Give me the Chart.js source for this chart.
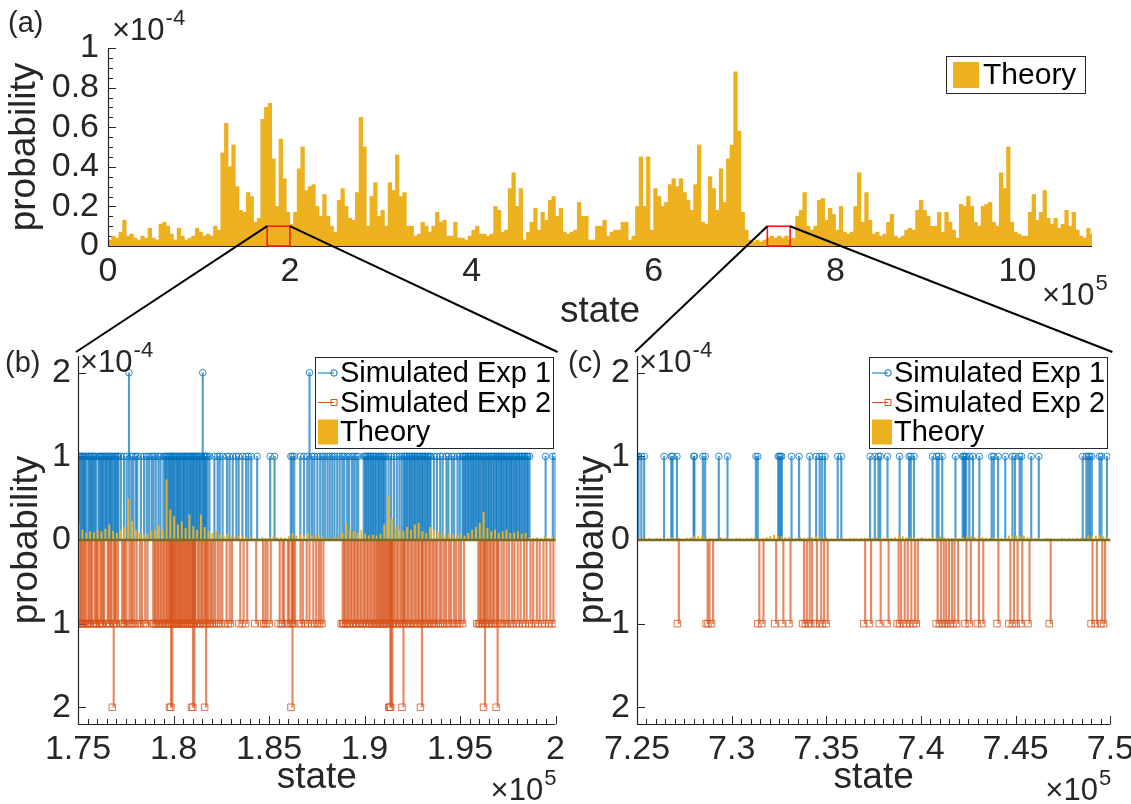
<!DOCTYPE html>
<html><head><meta charset="utf-8">
<script src="https://cdn.jsdelivr.net/npm/chart.js@4.4.1/dist/chart.umd.min.js"></script>
<style>
html,body{margin:0;padding:0;background:#fff;}
#wrap{position:relative;width:1131px;height:804px;overflow:hidden;background:#fff;}
canvas{position:absolute;}
</style></head><body>
<div id="wrap">
<canvas id="ca" width="1131" height="340" style="left:0;top:0"></canvas>
<canvas id="cb" width="570" height="478" style="left:0;top:326px"></canvas>
<canvas id="cc" width="580" height="478" style="left:559px;top:326px"></canvas>
<canvas id="ov" width="1131" height="804" style="left:0;top:0;pointer-events:none"></canvas>
</div>
<script>
// ================= DATA =================
const seriesNames = ['Simulated Exp 1', 'Simulated Exp 2', 'Theory'];
// x ranges (state)
const rangeA = [0, 1082000];
const rangeB = [175000, 200000];
const rangeC = [725000, 750000];
const zoomBoxTop = 0.1; // ×10^-4
// tick values and labels
const xTicksA = [0, 2, 4, 6, 8, 10];            // ×10^5
const xTickLabelsA = ['0', '2', '4', '6', '8', '10'];
const yTicksA = [0, 0.2, 0.4, 0.6, 0.8, 1];      // ×10^-4
const yTickLabelsA = ['0', '0.2', '0.4', '0.6', '0.8', '1'];
const xTicksB = [1.75, 1.8, 1.85, 1.9, 1.95, 2];
const xTickLabelsB = ['1.75', '1.8', '1.85', '1.9', '1.95', '2'];
const xTicksC = [7.25, 7.3, 7.35, 7.4, 7.45, 7.5];
const xTickLabelsC = ['7.25', '7.3', '7.35', '7.4', '7.45', '7.5'];
const yTicksBC = [-2, -1, 0, 1, 2];
const yTickLabelsBC = ['2', '1', '0', '1', '2'];

// Theory probability (×10^-4), full state space, bins of 4000 states
const theoryBinA = 4000;
const theoryFull = [
0.03,0.05,0.04,0.07,0.13,0.05,0.06,0.04,0.03,0.05,
0.04,0.09,0.04,0.03,0.11,0.12,0.10,0.06,0.03,0.09,
0.05,0.03,0.04,0.05,0.09,0.07,0.05,0.06,0.05,0.10,
0.08,0.47,0.62,0.40,0.51,0.30,0.18,0.17,0.27,0.25,
0.12,0.14,0.64,0.70,0.72,0.44,0.20,0.54,0.34,0.17,
0.11,0.17,0.39,0.50,0.28,0.30,0.31,0.20,0.15,0.26,
0.15,0.10,0.07,0.23,0.29,0.20,0.14,0.13,0.27,0.65,
0.50,0.10,0.25,0.32,0.15,0.18,0.10,0.32,0.28,0.46,
0.25,0.27,0.10,0.10,0.05,0.06,0.12,0.10,0.07,0.10,
0.17,0.12,0.13,0.05,0.05,0.12,0.04,0.04,0.03,0.05,
0.08,0.10,0.06,0.06,0.05,0.06,0.20,0.18,0.07,0.08,
0.29,0.37,0.20,0.29,0.03,0.07,0.12,0.19,0.08,0.17,
0.13,0.23,0.25,0.15,0.19,0.07,0.06,0.07,0.08,0.22,
0.15,0.15,0.03,0.03,0.10,0.10,0.13,0.05,0.07,0.08,
0.08,0.12,0.12,0.03,0.05,0.20,0.45,0.20,0.45,0.08,
0.29,0.25,0.20,0.22,0.31,0.34,0.30,0.34,0.27,0.23,
0.18,0.31,0.51,0.12,0.11,0.35,0.29,0.18,0.39,0.22,
0.44,0.51,0.88,0.58,0.17,0.08,0.03,0.02,0.03,0.02,
0.03,0.04,0.05,0.04,0.05,0.04,0.05,0.03,0.04,0.15,
0.18,0.27,0.10,0.08,0.10,0.23,0.24,0.13,0.19,0.16,
0.08,0.20,0.07,0.06,0.07,0.20,0.37,0.12,0.27,0.13,
0.06,0.07,0.05,0.06,0.12,0.16,0.05,0.04,0.05,0.08,
0.09,0.08,0.18,0.23,0.18,0.15,0.10,0.10,0.17,0.07,
0.17,0.12,0.08,0.04,0.21,0.20,0.25,0.20,0.12,0.10,
0.20,0.21,0.22,0.12,0.10,0.37,0.29,0.50,0.12,0.07,
0.06,0.05,0.05,0.17,0.26,0.13,0.17,0.28,0.14,0.11,
0.14,0.09,0.11,0.18,0.10,0.17,0.08,0.05,0.04,0.09,
0.06];

// Theory in zoom windows, bins of 200 states
const theoryBinZoom = 200;
const theoryB = [
0.20,0.12,0.08,0.10,0.09,0.12,0.10,0.13,0.18,0.10,
0.08,0.12,0.15,0.49,0.22,0.12,0.08,0.06,0.07,0.10,
0.12,0.17,0.12,0.72,0.36,0.28,0.18,0.22,0.14,0.30,
0.16,0.12,0.30,0.15,0.10,0.08,0.10,0.06,0.05,0.07,
0.04,0.03,0.05,0.04,0.03,0.03,0.02,0.02,0.03,0.02,
0.03,0.04,0.03,0.03,0.02,0.04,0.08,0.05,0.06,0.04,
0.08,0.05,0.06,0.05,0.03,0.02,0.02,0.03,0.04,0.08,
0.20,0.12,0.10,0.08,0.12,0.07,0.05,0.06,0.05,0.07,
0.18,0.52,0.25,0.16,0.12,0.10,0.15,0.12,0.18,0.20,
0.10,0.08,0.15,0.12,0.10,0.07,0.06,0.08,0.06,0.05,
0.07,0.05,0.08,0.12,0.15,0.20,0.33,0.14,0.10,0.12,
0.08,0.10,0.12,0.08,0.09,0.10,0.07,0.08,0.03,0.02,
0.03,0.02,0.04,0.02,0.03];
const theoryC = [
0.02,0.01,0.02,0.02,0.01,0.02,0.02,0.01,0.02,0.03,
0.02,0.02,0.01,0.02,0.03,0.05,0.04,0.05,0.02,0.02,
0.01,0.02,0.03,0.02,0.01,0.01,0.02,0.02,0.01,0.02,
0.02,0.03,0.02,0.02,0.03,0.04,0.06,0.05,0.04,0.03,
0.03,0.02,0.02,0.03,0.02,0.03,0.03,0.04,0.03,0.02,
0.02,0.01,0.01,0.02,0.02,0.01,0.02,0.02,0.01,0.02,
0.02,0.02,0.02,0.03,0.02,0.02,0.03,0.02,0.03,0.06,
0.04,0.03,0.03,0.02,0.02,0.03,0.02,0.02,0.03,0.02,
0.04,0.03,0.02,0.02,0.03,0.02,0.03,0.05,0.04,0.03,
0.04,0.03,0.02,0.02,0.03,0.02,0.02,0.02,0.05,0.04,
0.05,0.04,0.05,0.03,0.02,0.02,0.02,0.01,0.02,0.02,
0.01,0.01,0.02,0.01,0.02,0.01,0.02,0.02,0.02,0.05,
0.04,0.05,0.05,0.04,0.03];

// Simulated experiment 1 (b): states observed once / twice (1e-4 per count)
const exp1B_once = [
175010,175060,175140,175190,175250,175320,175370,175450,175560,175610,175690,175740,175820,175870,175950,
176080,176130,176210,176270,176320,176400,176470,176520,176610,176660,176720,176790,176860,176930,176990,177070,177110,
177240,177410,177550,
177790,177890,178020,178100,178290,178460,178600,178710,178850,178950,179070,179210,179320,179470,
179560,179610,179680,179750,179800,179860,179930,179990,180040,180110,180180,180230,180300,180350,180410,180490,
180540,180590,180670,180720,180790,180850,180900,180970,181030,181080,181160,181210,181260,181340,181390,181460,
181590,181640,181700,181770,
181880,182140,182310,182420,182570,182800,182930,183100,183290,183410,183610,183800,183920,184070,184380,
185060,185290,
186140,186220,186320,186640,186830,187010,187250,187370,187530,187680,187810,187920,188060,188180,188310,188430,
188570,188700,188840,188940,189090,189190,189340,189450,189570,189670,
189960,190040,190090,190170,190220,190310,190350,190440,190480,190570,190610,190710,190760,190840,190890,190970,
191030,191110,191260,191390,191540,191690,191830,191950,192060,192110,192200,192240,192340,192380,192470,192510,
192600,192650,192730,192790,192870,192920,193010,193050,193140,193190,193270,193330,193410,193460,193630,193790,
193960,194090,194290,194390,194570,194690,194870,194990,195130,195180,195260,195320,195410,195450,195540,195590,
195670,195720,195810,195850,195940,195990,196070,196120,196210,196250,196340,196380,196470,196520,196610,196650,
196740,196790,196880,196920,197010,197060,197140,197190,197270,197320,197410,197450,197540,197590,197670,197720,
197810,197860,197940,197990,198080,198130,198220,198270,198360,198410,198500,198550,198640,
199480,199860,199990];
const exp1B_twice = [177670, 181530, 187120];
// Simulated experiment 2 (b) – plotted downward
const exp2B_once = [
175020,175090,175140,175220,175280,175360,175470,175520,175610,175650,175790,175860,175910,175990,176110,176150,
176240,176290,176480,176530,176620,176670,176850,176910,177010,177230,177320,177370,177460,177610,177710,177770,
177870,177990,178160,178270,178440,178560,
178860,178940,178990,179090,179140,179240,179290,179390,179440,179540,179590,179670,179720,179760,179830,179890,
179930,180000,180040,180090,180160,180200,180270,180310,180380,180420,180490,180530,180600,180640,180710,180750,
180820,180860,180930,180970,181040,181080,181210,181270,181370,181420,181520,181590,181690,181750,181860,181920,
182020,182110,182250,182370,182480,
182700,182860,182980,183420,183590,183780,184250,184610,184730,184840,185010,
185480,185630,185710,185910,185990,186130,186210,186290,186570,186690,186890,187040,187240,187390,187530,187640,187770,
188780,188860,188920,189020,189090,189190,189250,189360,189420,189530,189590,189700,189770,189880,189940,190050,
190120,190220,190290,190390,190450,190540,190590,190670,190710,190790,190830,190910,190950,191030,191070,191150,
191190,191280,191340,191440,191510,191620,191690,191800,191870,191980,192050,192160,192230,192340,192420,192530,
192610,192720,192790,192910,192990,193100,193170,193280,193360,193470,193550,193660,193740,193870,193960,194090,
194190,194340,194450,194600,194710,194860,194970,195130,
195880,195970,196030,196130,196190,196300,196370,196470,196540,196650,196720,196840,196940,197090,197210,197360,
197490,197650,197770,197940,198090,198270,198410,198610,198750,198940,199090,199290,199450,199650,199810,199980];
const exp2B_twice = [176790,179790,179860,180940,181010,181630,186150,191270,191320,191370,191960,192930,196230,196890];

// Simulated experiments in (c)
const exp1C_once = [
725000,725080,725230,725380,726430,726810,726880,727110,727990,728030,728480,728600,729320,729780,731280,731380,
732460,732520,732590,732650,733160,733560,734120,734460,734650,734780,734930,735600,735790,737310,737560,737750,
737850,738230,738870,739370,739460,739630,740610,740830,740930,741120,741820,742200,742260,742320,742390,742550,
742740,743080,743730,743840,744070,744450,744830,744960,745210,745310,745820,746220,748540,748730,748830,748920,
749020,749430,749530,749820];
const exp2C_once = [
727130,728650,728750,728940,731380,731600,732270,732650,733030,733740,733890,734040,734170,734420,734650,734800,
734990,736970,737280,737790,738210,738740,738870,739060,739220,739410,739600,739750,740800,740970,741120,741250,
741400,741560,741690,741880,742320,742550,742980,743210,744010,744640,744830,745020,745270,745650,746770,748980,
749210,749490,749640];

// ================= STYLE =================
const FONT = '"Liberation Sans", Arial, Helvetica, sans-serif';
const INK = '#262626';
const YELLOW = '#EDB120';
const BLUE = '#0072BD';
const ORANGE = '#D95319';
const TICK = 34, TITLE = 37, LEG = 29, EXPF = 31, PANELF = 29;

function seg(ctx, x1, y1, x2, y2) { ctx.beginPath(); ctx.moveTo(x1, y1); ctx.lineTo(x2, y2); ctx.stroke(); }
function drawExp(ctx, x, y, base, sup) {
  ctx.fillStyle = INK; ctx.textAlign = 'left'; ctx.textBaseline = 'alphabetic';
  ctx.font = EXPF + 'px ' + FONT; ctx.fillText(base, x, y);
  const w = ctx.measureText(base).width;
  ctx.font = Math.round(EXPF * 0.72) + 'px ' + FONT; ctx.fillText(sup, x + w + 1, y - 15);
}

const decorPlugin = {
  id: 'decor',
  beforeDatasetsDraw(chart, args, o) {
    const ctx = chart.ctx, ca = chart.chartArea, xs = chart.scales.x, ys = chart.scales.y;
    ctx.save(); ctx.strokeStyle = INK; ctx.lineWidth = 1;
    if (o.xTicks) {
      xs.ticks.forEach(t => { const p = Math.round(xs.getPixelForValue(t.value)) + 0.5; seg(ctx, p, ca.bottom, p, ca.bottom - 8); });
      if (o.xMinor) for (let k = 0; ; k++) {
        const v = xs.min + k * o.xMinor; if (v > xs.max + 1e-6) break;
        const p = Math.round(xs.getPixelForValue(v)) + 0.5; seg(ctx, p, ca.bottom, p, ca.bottom - 5);
      }
    }
    ys.ticks.forEach(t => { const p = Math.round(ys.getPixelForValue(t.value)) + 0.5; seg(ctx, ca.left, p, ca.left + 8, p); });
    if (o.yMinor) for (let k = 0; ; k++) {
      const v = ys.min + k * o.yMinor; if (v > ys.max + 1e-9) break;
      const p = Math.round(ys.getPixelForValue(v)) + 0.5; seg(ctx, ca.left, p, ca.left + 5, p);
    }
    ctx.restore();
  },
  afterDatasetsDraw(chart, args, o) {
    const ctx = chart.ctx, ca = chart.chartArea, xs = chart.scales.x, ys = chart.scales.y;
    ctx.save();
    if (o.baseline) {
      ctx.strokeStyle = o.baseline; ctx.lineWidth = 2.5;
      const y0 = ys.getPixelForValue(0); seg(ctx, ca.left, y0, ca.right, y0);
    }
    ctx.strokeStyle = INK; ctx.lineWidth = 1.2;
    seg(ctx, ca.left + 0.5, ca.top, ca.left + 0.5, ca.bottom);
    seg(ctx, ca.left, ca.bottom + 0.5, ca.right, ca.bottom + 0.5);
    // zoom boxes
    (o.zoomBoxes || []).forEach(b => {
      const x1 = xs.getPixelForValue(b[0]), x2 = xs.getPixelForValue(b[1]);
      const y1 = ys.getPixelForValue(zoomBoxTop), y2 = ys.getPixelForValue(0);
      ctx.strokeStyle = '#FF1A1A'; ctx.lineWidth = 1.6; ctx.strokeRect(x1, y1, x2 - x1, y2 - y1);
    });
    // legend
    const L = o.legend;
    if (L) {
      const x = Math.round(ca.right + L.dx), y = Math.round(ca.top + L.dy);
      ctx.fillStyle = '#fff'; ctx.fillRect(x, y, L.w, L.h);
      ctx.strokeStyle = INK; ctx.lineWidth = 1; ctx.strokeRect(x + 0.5, y + 0.5, L.w, L.h);
      ctx.font = L.size + 'px ' + FONT; ctx.textBaseline = 'middle'; ctx.textAlign = 'left';
      L.items.forEach((it, i) => {
        const cy = y + L.first + i * L.rowH;
        if (it.kind === 'box') {
          ctx.fillStyle = YELLOW; ctx.fillRect(x + it.sx, cy - it.sh / 2, it.sw, it.sh);
        } else {
          ctx.strokeStyle = it.color; ctx.lineWidth = 1;
          seg(ctx, x + 3, cy, x + 19, cy);
          ctx.beginPath();
          if (it.kind === 'circle') ctx.arc(x + 19, cy, 3.2, 0, Math.PI * 2);
          else ctx.rect(x + 16, cy - 3, 6, 6);
          ctx.stroke();
        }
        ctx.fillStyle = '#000'; ctx.fillText(seriesNames[it.name], x + L.textX, cy + 1);
      });
    }
    if (o.yExp) drawExp(ctx, ca.left + o.yExp[0], ca.top + o.yExp[1], '×10', '-4');
    if (o.xExp) drawExp(ctx, ca.right + o.xExp[0], ca.bottom + o.xExp[1], '×10', '5');
    if (o.panel) {
      ctx.fillStyle = INK; ctx.font = PANELF + 'px ' + FONT; ctx.textAlign = 'left'; ctx.textBaseline = 'alphabetic';
      ctx.fillText(o.panel[0], o.panel[1], o.panel[2]);
    }
    ctx.restore();
  }
};

function xScale(range, ticks, labels, mult, height, titlePad) {
  return {
    type: 'linear', min: range[0], max: range[1], offset: false,
    grid: { display: false, drawTicks: false }, border: { display: false },
    afterBuildTicks: s => { s.ticks = ticks.map(v => ({ value: Math.round(v * mult) })); },
    afterFit: s => { s.height = height; },
    ticks: { autoSkip: false, maxRotation: 0, minRotation: 0, padding: 5, color: INK,
      font: { family: FONT, size: TICK }, callback: (v, i) => labels[i] },
    title: { display: true, text: 'state', color: INK, font: { family: FONT, size: TITLE }, padding: { top: 0, bottom: titlePad } }
  };
}
function yScale(min, max, ticks, labels, width, tickPad, titlePad) {
  return {
    type: 'linear', min: min, max: max,
    grid: { display: false, drawTicks: false }, border: { display: false },
    afterBuildTicks: s => { s.ticks = ticks.map(v => ({ value: v })); },
    afterFit: s => { s.width = width; },
    ticks: { autoSkip: false, padding: tickPad, color: INK, font: { family: FONT, size: TICK }, callback: (v, i) => labels[i] },
    title: { display: true, text: 'probability', color: INK, font: { family: FONT, size: TITLE }, padding: { top: titlePad, bottom: 0 } }
  };
}
function hiddenX(range) { return { type: 'linear', min: range[0], max: range[1], offset: false, display: false }; }

const common = { responsive: false, animation: false, devicePixelRatio: 1, events: [] };

// ---------- (a) ----------
const chartA = new Chart(document.getElementById('ca'), {
  type: 'bar',
  data: { datasets: [{
    label: seriesNames[2],
    data: theoryFull.map((v, i) => ({ x: rangeA[0] + theoryBinA * (i + 0.5), y: v })),
    backgroundColor: YELLOW, borderWidth: 0, barPercentage: 1, categoryPercentage: 1
  }] },
  options: Object.assign({}, common, {
    layout: { padding: { left: 0, right: 39, top: 48, bottom: 0 } },
    plugins: { legend: { display: false }, tooltip: { enabled: false },
      decor: { xTicks: false, yMinor: 0.05, zoomBoxes: [rangeB, rangeC],
        legend: { dx: -146, dy: 8, w: 139, h: 37, size: 30, first: 19, rowH: 30, textX: 37,
          items: [{ kind: 'box', name: 2, sx: 7, sw: 26, sh: 26 }] },
        yExp: [4, -8], xExp: [-50, 59], panel: ['(a)', 8, 32] } },
    scales: {
      x: xScale(rangeA, xTicksA, xTickLabelsA, 1e5, 94, 6),
      y: yScale(0, 1, yTicksA, yTickLabelsA, 108, 9, 3)
    }
  }),
  plugins: [decorPlugin]
});

// ---------- (b)/(c) ----------
function zoomChart(id, range, theory, e1once, e1twice, e2once, e2twice, xt, xl, padRight, yTitlePad, panel) {
  const stem1 = e1once.map(s => ({ x: s, y: 1 })).concat(e1twice.map(s => ({ x: s, y: 2 })));
  const stem2 = e2once.map(s => ({ x: s, y: -1 })).concat(e2twice.map(s => ({ x: s, y: -2 })));
  return new Chart(document.getElementById(id), {
    type: 'bar',
    data: { datasets: [
      { label: seriesNames[2], order: 0, xAxisID: 'x',
        data: theory.map((v, i) => ({ x: range[0] + theoryBinZoom * (i + 0.5), y: v })),
        backgroundColor: YELLOW, borderWidth: 0, barPercentage: 1, categoryPercentage: 1 },
      { label: seriesNames[0], order: 2, xAxisID: 'xs1', data: stem1,
        backgroundColor: 'rgba(0,114,189,0.68)', borderWidth: 0, barThickness: 1.5 },
      { label: seriesNames[1], order: 2, xAxisID: 'xs2', data: stem2,
        backgroundColor: 'rgba(217,83,25,0.68)', borderWidth: 0, barThickness: 1.5 },
      { type: 'scatter', label: seriesNames[0] + ' markers', order: 1, xAxisID: 'x', data: stem1,
        pointStyle: 'circle', pointRadius: 3.3, pointBorderWidth: 1, pointBorderColor: 'rgba(0,114,189,0.8)',
        pointBackgroundColor: 'rgba(255,255,255,0)', showLine: false },
      { type: 'scatter', label: seriesNames[1] + ' markers', order: 1, xAxisID: 'x', data: stem2,
        pointStyle: 'rect', pointRadius: 4.6, pointBorderWidth: 1, pointBorderColor: 'rgba(217,83,25,0.8)',
        pointBackgroundColor: 'rgba(255,255,255,0)', showLine: false }
    ] },
    options: Object.assign({}, common, {
      layout: { padding: { left: 0, right: padRight, top: 30, bottom: 0 } },
      plugins: { legend: { display: false }, tooltip: { enabled: false },
        decor: { xTicks: true, xMinor: 500, baseline: '#7d6b22',
          legend: { dx: -241, dy: 1, w: 238, h: 91, size: LEG, first: 16, rowH: 29.5, textX: 25,
            items: [{ kind: 'circle', name: 0, color: BLUE }, { kind: 'square', name: 1, color: ORANGE },
                    { kind: 'box', name: 2, sx: 3, sw: 20, sh: 25 }] },
          yExp: [2, 16], xExp: [-65, 76], panel: panel } },
      scales: {
        x: xScale(range, xt, xl, 1e5, 80, 4),
        xs1: hiddenX(range), xs2: hiddenX(range),
        y: yScale(-2.2, 2.2, yTicksBC, yTickLabelsBC, 78, 7, yTitlePad)
      }
    }),
    plugins: [decorPlugin]
  });
}
const chartB = zoomChart('cb', rangeB, theoryB, exp1B_once, exp1B_twice, exp2B_once, exp2B_twice,
  xTicksB, xTickLabelsB, 12, 5, ['(b)', 5, 46]);
const chartC = zoomChart('cc', rangeC, theoryC, exp1C_once, [], exp2C_once, [],
  xTicksC, xTickLabelsC, 26, 12, ['(c)', 9, 46]);

// ---------- zoom connector lines ----------
(function () {
  const ctx = document.getElementById('ov').getContext('2d');
  ctx.strokeStyle = '#000'; ctx.lineWidth = 2;
  const yTop = chartA.scales.y.getPixelForValue(zoomBoxTop);
  [[chartB, rangeB, 0, 326], [chartC, rangeC, 559, 326]].forEach(([ch, r, ox, oy]) => {
    const xa = chartA.scales.x.getPixelForValue(r[0]), xb = chartA.scales.x.getPixelForValue(r[1]);
    seg(ctx, xa, yTop, ch.chartArea.left + ox - 2, ch.chartArea.top + oy - 4);
    seg(ctx, xb, yTop, ch.chartArea.right + ox + 2, ch.chartArea.top + oy - 4);
  });
})();
</script>
</body></html>
